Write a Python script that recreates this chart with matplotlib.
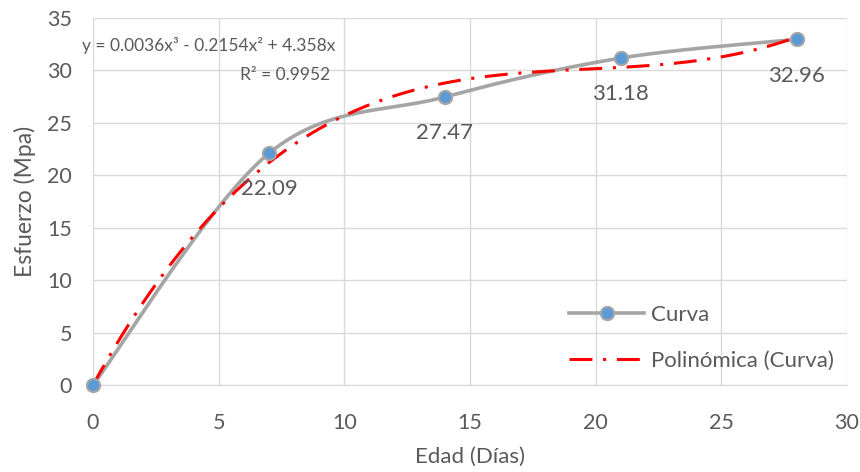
import numpy as np
import matplotlib
matplotlib.use("Agg")
import matplotlib.pyplot as plt
from matplotlib.lines import Line2D

edad = [0, 7, 14, 21, 28]
esfuerzo = [0, 22.09, 27.47, 31.18, 32.96]
labels = ["", "22.09", "27.47", "31.18", "32.96"]
eq_text = "y = 0.0036x³ - 0.2154x² + 4.358x"
r2_text = "R² = 0.9952"
x_ticks = [0, 5, 10, 15, 20, 25, 30]
y_ticks = [0, 5, 10, 15, 20, 25, 30, 35]

TXT = "#595959"
GRID = "#D9D9D9"
GRAY = "#A5A5A5"
BLUE = "#5B9BD5"
RED = "#FF0000"
plt.rcParams['font.family'] = ['Lato', 'DejaVu Sans']

def catmull(xs, ys, n=40):
    xs = np.asarray(xs, float); ys = np.asarray(ys, float)
    px = np.concatenate([[xs[0]], xs, [xs[-1]]])
    py = np.concatenate([[ys[0]], ys, [ys[-1]]])
    ox, oy = [], []
    for i in range(1, len(px) - 2):
        p0 = np.array([px[i-1], py[i-1]]); p1 = np.array([px[i], py[i]])
        p2 = np.array([px[i+1], py[i+1]]); p3 = np.array([px[i+2], py[i+2]])
        c1 = p1 + (p2 - p0) / 6.0
        c2 = p2 - (p3 - p1) / 6.0
        t = np.linspace(0, 1, n)[:, None]
        b = (1-t)**3*p1 + 3*(1-t)**2*t*c1 + 3*(1-t)*t**2*c2 + t**3*p2
        ox.extend(b[:, 0]); oy.extend(b[:, 1])
    return np.array(ox), np.array(oy)

# cubic trendline through the origin (least squares, as the spreadsheet does)
xa = np.asarray(edad, float); ya = np.asarray(esfuerzo, float)
A = np.column_stack([xa**3, xa**2, xa])
coef, *_ = np.linalg.lstsq(A, ya, rcond=None)

fig = plt.figure(figsize=(8.6, 4.72), dpi=100)
ax = fig.add_axes([93/860, 1-385/472, (847-93)/860, (385-18)/472])

ax.set_xlim(0, 30)
ax.set_ylim(0, 35)
ax.set_xticks(x_ticks)
ax.set_yticks(y_ticks)
ax.grid(True, color=GRID, lw=1)
ax.set_axisbelow(True)
for s in ['top', 'right']:
    ax.spines[s].set_visible(False)
ax.spines['left'].set_color(GRID)
ax.spines['bottom'].set_color(GRID)
ax.tick_params(length=0, labelsize=15.5, colors=TXT)
ax.tick_params(axis='x', pad=20)
ax.tick_params(axis='y', pad=15)

sx, sy = catmull(edad, esfuerzo)
ax.plot(sx, sy, color=GRAY, lw=2.6, zorder=3, solid_capstyle='round')
ax.plot(edad, esfuerzo, ls='none', marker='o', ms=9.5, mfc=BLUE,
        mec=GRAY, mew=1.5, zorder=5, clip_on=False)

xt = np.linspace(0, 28, 300)
yt = coef[0]*xt**3 + coef[1]*xt**2 + coef[2]*xt
ax.plot(xt, yt, color=RED, lw=2.2, dashes=(7.5, 3.5, 1, 3.5), zorder=4)

for x, y, l in zip(edad, esfuerzo, labels):
    if l:
        ax.annotate(l, (x, y), xytext=(0, -26), textcoords='offset points',
                    ha='center', va='center', fontsize=16, color=TXT, zorder=6)

fig.text(335/860, 1-45/472, eq_text, ha='right', va='center', fontsize=12.5, color=TXT)
fig.text(330/860, 1-75/472, r2_text, ha='right', va='center', fontsize=12.5, color=TXT)

ax.set_xlabel("Edad (Días)", fontsize=16, color=TXT)
ax.set_ylabel("Esfuerzo (Mpa)", fontsize=16.5, color=TXT)
ax.xaxis.set_label_coords(0.5, (385-457)/367)
ax.xaxis.label.set_va('center')
ax.yaxis.set_label_coords((25-93)/754, 0.5)
ax.yaxis.label.set_va('center')

handles = [
    Line2D([], [], color=GRAY, lw=2.6, marker='o', ms=9.5, mfc=BLUE, mec=GRAY, mew=1.5),
    Line2D([], [], color=RED, lw=2.2, dashes=(7.5, 3.5, 1, 3.5)),
]
leg = ax.legend(handles, ["Curva", "Polinómica (Curva)"], loc='lower right',
                bbox_to_anchor=(834/860, 1-371/472), bbox_transform=fig.transFigure,
                frameon=False, fontsize=16, labelcolor=TXT, handlelength=3.4,
                labelspacing=1.18, handletextpad=0.3, borderaxespad=0, borderpad=0)

fig.savefig("out.png", dpi=100)
